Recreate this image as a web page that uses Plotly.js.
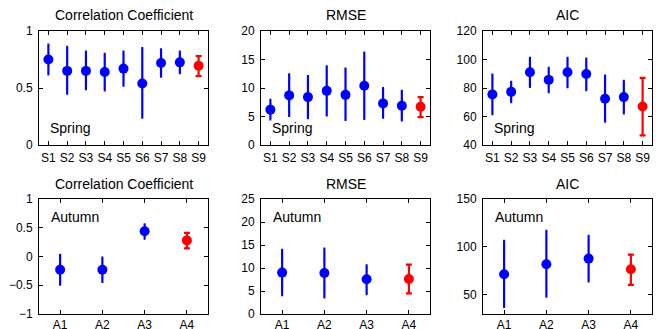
<!DOCTYPE html>
<html>
<head>
<meta charset="utf-8">
<script src="https://cdn.plot.ly/plotly-3.0.1.min.js"></script>
<style>html,body{margin:0;padding:0;background:#fff}#chart{width:656px;height:329px}</style>
</head>
<body>
<div id="chart"></div>
<script>
// Categories
const springCats = ['S1','S2','S3','S4','S5','S6','S7','S8','S9'];
const autumnCats = ['A1','A2','A3','A4'];

// Spring - Correlation Coefficient (mean, upper, lower)
const springCorr   = [0.75, 0.65, 0.65, 0.64, 0.67, 0.54, 0.72, 0.725, 0.695];
const springCorrHi = [0.88, 0.86, 0.82, 0.80, 0.82, 0.85, 0.84, 0.82, 0.78];
const springCorrLo = [0.62, 0.45, 0.49, 0.48, 0.52, 0.24, 0.60, 0.63, 0.605];

// Spring - RMSE
const springRmse   = [6.2, 8.7, 8.4, 9.5, 8.8, 10.4, 7.3, 6.9, 6.7];
const springRmseHi = [7.9, 12.4, 12.1, 13.8, 13.4, 16.2, 10.0, 9.5, 8.4];
const springRmseLo = [4.5, 5.1, 4.7, 5.2, 4.4, 4.6, 4.8, 4.3, 4.9];

// Spring - AIC
const springAic   = [75.5, 77.3, 91.0, 85.7, 91.0, 89.8, 72.4, 73.6, 67.0];
const springAicHi = [89.4, 84.3, 101.1, 94.1, 101.1, 100.6, 88.7, 85.0, 87.1];
const springAicLo = [61.7, 70.1, 80.8, 77.1, 80.6, 78.5, 56.3, 62.2, 46.8];

// Autumn - Correlation Coefficient
const autumnCorr   = [-0.23, -0.23, 0.44, 0.28];
const autumnCorrHi = [0.03, -0.02, 0.56, 0.41];
const autumnCorrLo = [-0.49, -0.44, 0.31, 0.14];

// Autumn - RMSE
const autumnRmse   = [9.0, 8.9, 7.55, 7.6];
const autumnRmseHi = [13.95, 14.2, 10.6, 10.75];
const autumnRmseLo = [4.1, 3.6, 4.3, 4.5];

// Autumn - AIC
const autumnAic   = [71.4, 81.9, 87.8, 76.7];
const autumnAicHi = [106.3, 116.7, 111.5, 92.0];
const autumnAicLo = [37.3, 48.2, 64.1, 60.3];

const panelTitles = ['Correlation Coefficient','RMSE','AIC','Correlation Coefficient','RMSE','AIC'];

const panels = [
  {cats: springCats, v: springCorr, hi: springCorrHi, lo: springCorrLo},
  {cats: springCats, v: springRmse, hi: springRmseHi, lo: springRmseLo},
  {cats: springCats, v: springAic,  hi: springAicHi,  lo: springAicLo},
  {cats: autumnCats, v: autumnCorr, hi: autumnCorrHi, lo: autumnCorrLo},
  {cats: autumnCats, v: autumnRmse, hi: autumnRmseHi, lo: autumnRmseLo},
  {cats: autumnCats, v: autumnAic,  hi: autumnAicHi,  lo: autumnAicLo}
];

const BLUE = 'rgb(0,0,255)', RED = 'rgb(255,0,0)';
const traces = [];
panels.forEach((p, i) => {
  const ax = i === 0 ? '' : String(i + 1);
  const n = p.v.length;
  const groups = [
    {idx: [...Array(n - 1).keys()], color: BLUE, capw: 1},
    {idx: [n - 1], color: RED, capw: 3}
  ];
  groups.forEach(g => {
    traces.push({
      type: 'scatter', mode: 'markers',
      x: g.idx.map(k => p.cats[k]),
      y: g.idx.map(k => p.v[k]),
      xaxis: 'x' + ax, yaxis: 'y' + ax,
      marker: {color: g.color, size: 10},
      error_y: {
        type: 'data', symmetric: false,
        array: g.idx.map(k => p.hi[k] - p.v[k]),
        arrayminus: g.idx.map(k => p.v[k] - p.lo[k]),
        color: g.color, thickness: 2.2, width: g.capw
      },
      showlegend: false, hoverinfo: 'none'
    });
  });
});

const W = 656, H = 329;
const xDom = [[39/W, 208/W], [261/W, 430/W], [483/W, 652/W]];
const yDomTop = [(H-145)/H, (H-31)/H];
const yDomBot = [(H-314)/H, (H-199)/H];

const yRanges = [[0,1],[0,20],[40,120],[-1,1],[0,25],[30,150]];
const yTicks = [[0,0.5,1],[0,5,10,15,20],[40,60,80,100,120],[-1,-0.5,0,0.5,1],[0,5,10,15,20,25],[50,100,150]];

const font = {family: 'Liberation Sans, Arial, sans-serif', size: 12, color: '#000'};
const layout = {
  width: W, height: H,
  margin: {l: 0, r: 0, t: 0, b: 0},
  paper_bgcolor: '#fff', plot_bgcolor: '#fff',
  font: font, showlegend: false,
  annotations: []
};

const baseAxis = {
  showline: true, linecolor: '#000', linewidth: 1, mirror: 'ticks',
  ticks: 'inside', ticklen: 4, tickcolor: '#000', tickwidth: 1,
  showgrid: false, zeroline: false, fixedrange: true,
  tickfont: {family: font.family, size: 12, color: '#000'}
};

panels.forEach((p, i) => {
  const ax = i === 0 ? '' : String(i + 1);
  const col = i % 3, top = i < 3;
  layout['xaxis' + ax] = Object.assign({}, baseAxis, {
    domain: xDom[col], anchor: 'y' + ax, type: 'category',
    range: [-0.5, p.cats.length - 0.5], ticklabelstandoff: top ? 2 : 0
  });
  layout['yaxis' + ax] = Object.assign({}, baseAxis, {
    domain: top ? yDomTop : yDomBot, anchor: 'x' + ax,
    range: yRanges[i], tickvals: yTicks[i], ticklabelstandoff: 3
  });
  const xc = (xDom[col][0] + xDom[col][1]) / 2;
  layout.annotations.push({
    text: panelTitles[i], xref: 'paper', yref: 'paper',
    x: xc, y: top ? (H - 15) / H : (H - 184) / H,
    xanchor: 'center', yanchor: 'middle', showarrow: false,
    font: {family: font.family, size: 14, color: '#000'}
  });
  layout.annotations.push({
    text: top ? 'Spring' : 'Autumn',
    xref: 'x' + ax + ' domain', yref: 'paper',
    x: top ? 0.055 : 0.06,
    y: top ? (H - 128) / H : (H - 217) / H,
    xanchor: 'left', yanchor: 'middle', showarrow: false,
    font: {family: font.family, size: 14, color: '#000'}
  });
});

Plotly.newPlot('chart', traces, layout, {staticPlot: true});
</script>
</body>
</html>
